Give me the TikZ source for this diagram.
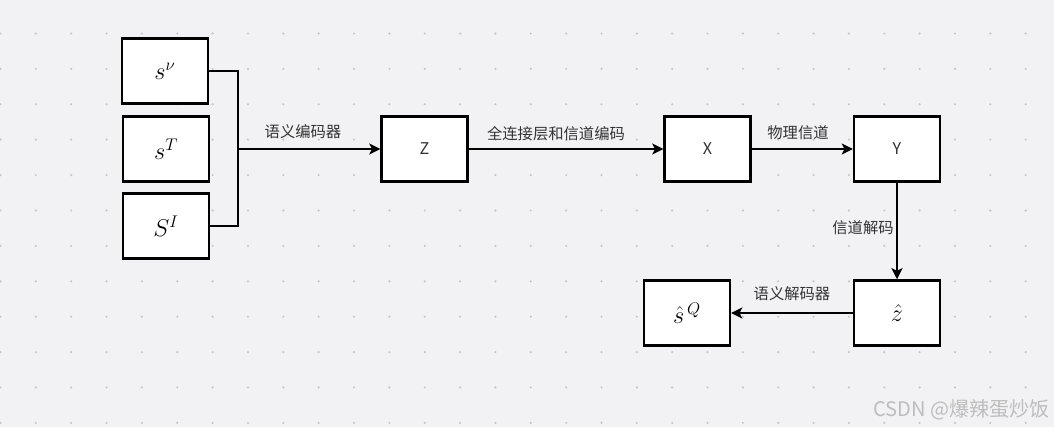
\documentclass[tikz,border=0pt]{standalone}
\usepackage{amsmath,amssymb}
\usepackage{fontspec}
\newfontfamily\cjk{Noto Sans CJK SC}
\usetikzlibrary{arrows.meta,positioning,calc}

\definecolor{canvas}{HTML}{F2F2F4}
\definecolor{griddot}{HTML}{C6C6CA}
\definecolor{labelgray}{HTML}{333333}
\definecolor{markgray}{HTML}{BDBDBD}

\tikzset{
  blockbox/.style={draw=black,line width=1.6pt,fill=white,
    minimum width=21.5mm,minimum height=16.3mm,inner sep=0pt,
    font=\fontsize{18}{20}\selectfont},
  letterbox/.style={blockbox,font=\cjk\fontsize{11.5}{13}\selectfont,text=labelgray},
  flow/.style={line width=1.1pt,-{Stealth[length=8pt,width=8pt,inset=2pt]}},
  edgelabel/.style={font=\cjk\fontsize{10.9}{12}\selectfont,text=labelgray,inner sep=0pt},
}

\begin{document}
\begin{tikzpicture}[x=0.25mm,y=-0.25mm]
  % canvas and dot grid
  \fill[canvas] (0,0) rectangle (1054,427);
  \useasboundingbox (0,0) rectangle (1054,427);
  \foreach \i in {0,...,29}
    \foreach \j in {0,...,11}
      \fill[griddot] (0.5+35.35*\i,33.5+35.4*\j) circle (0.3mm);

  % sources
  \node[blockbox] (sv) at (165,71) {$s^{\nu}$};
  \node[blockbox] (st) at (166,149) {$s^{T}$};
  \node[blockbox] (si) at (166,226) {$S^{I}$};

  % chain
  \node[letterbox] (z) at (424.5,149) {Z};
  \node[letterbox] (x) at (707.5,149) {X};
  \node[letterbox] (y) at (897,149) {Y};
  \node[blockbox] (zhat) at (897,313) {$\hat{z}$};
  \node[blockbox] (shat) at (687,313) {$\hat{s}^{\,Q}$};

  % bracket joining the three sources
  \coordinate (join) at (238,149);
  \draw[line width=1.1pt] (sv.east) -| (join) |- (si.east);
  \draw[flow] (join) -- (z.west);

  \draw[flow] (z.east) -- (x.west);
  \draw[flow] (x.east) -- (y.west);
  \draw[flow] (y.south) -- (zhat.north);
  \draw[flow] (zhat.west) -- (shat.east);

  % labels
  \node[edgelabel] (enclabel) at (303,132) {语义编码器};
  \node[edgelabel] (fclabel) at (556,134) {全连接层和信道编码};
  \node[edgelabel] (chlabel) at (798,133) {物理信道};
  \node[edgelabel] (declabel) at (863,228) {信道解码};
  \node[edgelabel] (sdlabel) at (792,293.5) {语义解码器};

  \node[font=\cjk\fontsize{14.3}{16}\selectfont,text=markgray,anchor=east,inner sep=0pt]
    (mark) at (1050,410) {CSDN @爆辣蛋炒饭};
\end{tikzpicture}
\end{document}
